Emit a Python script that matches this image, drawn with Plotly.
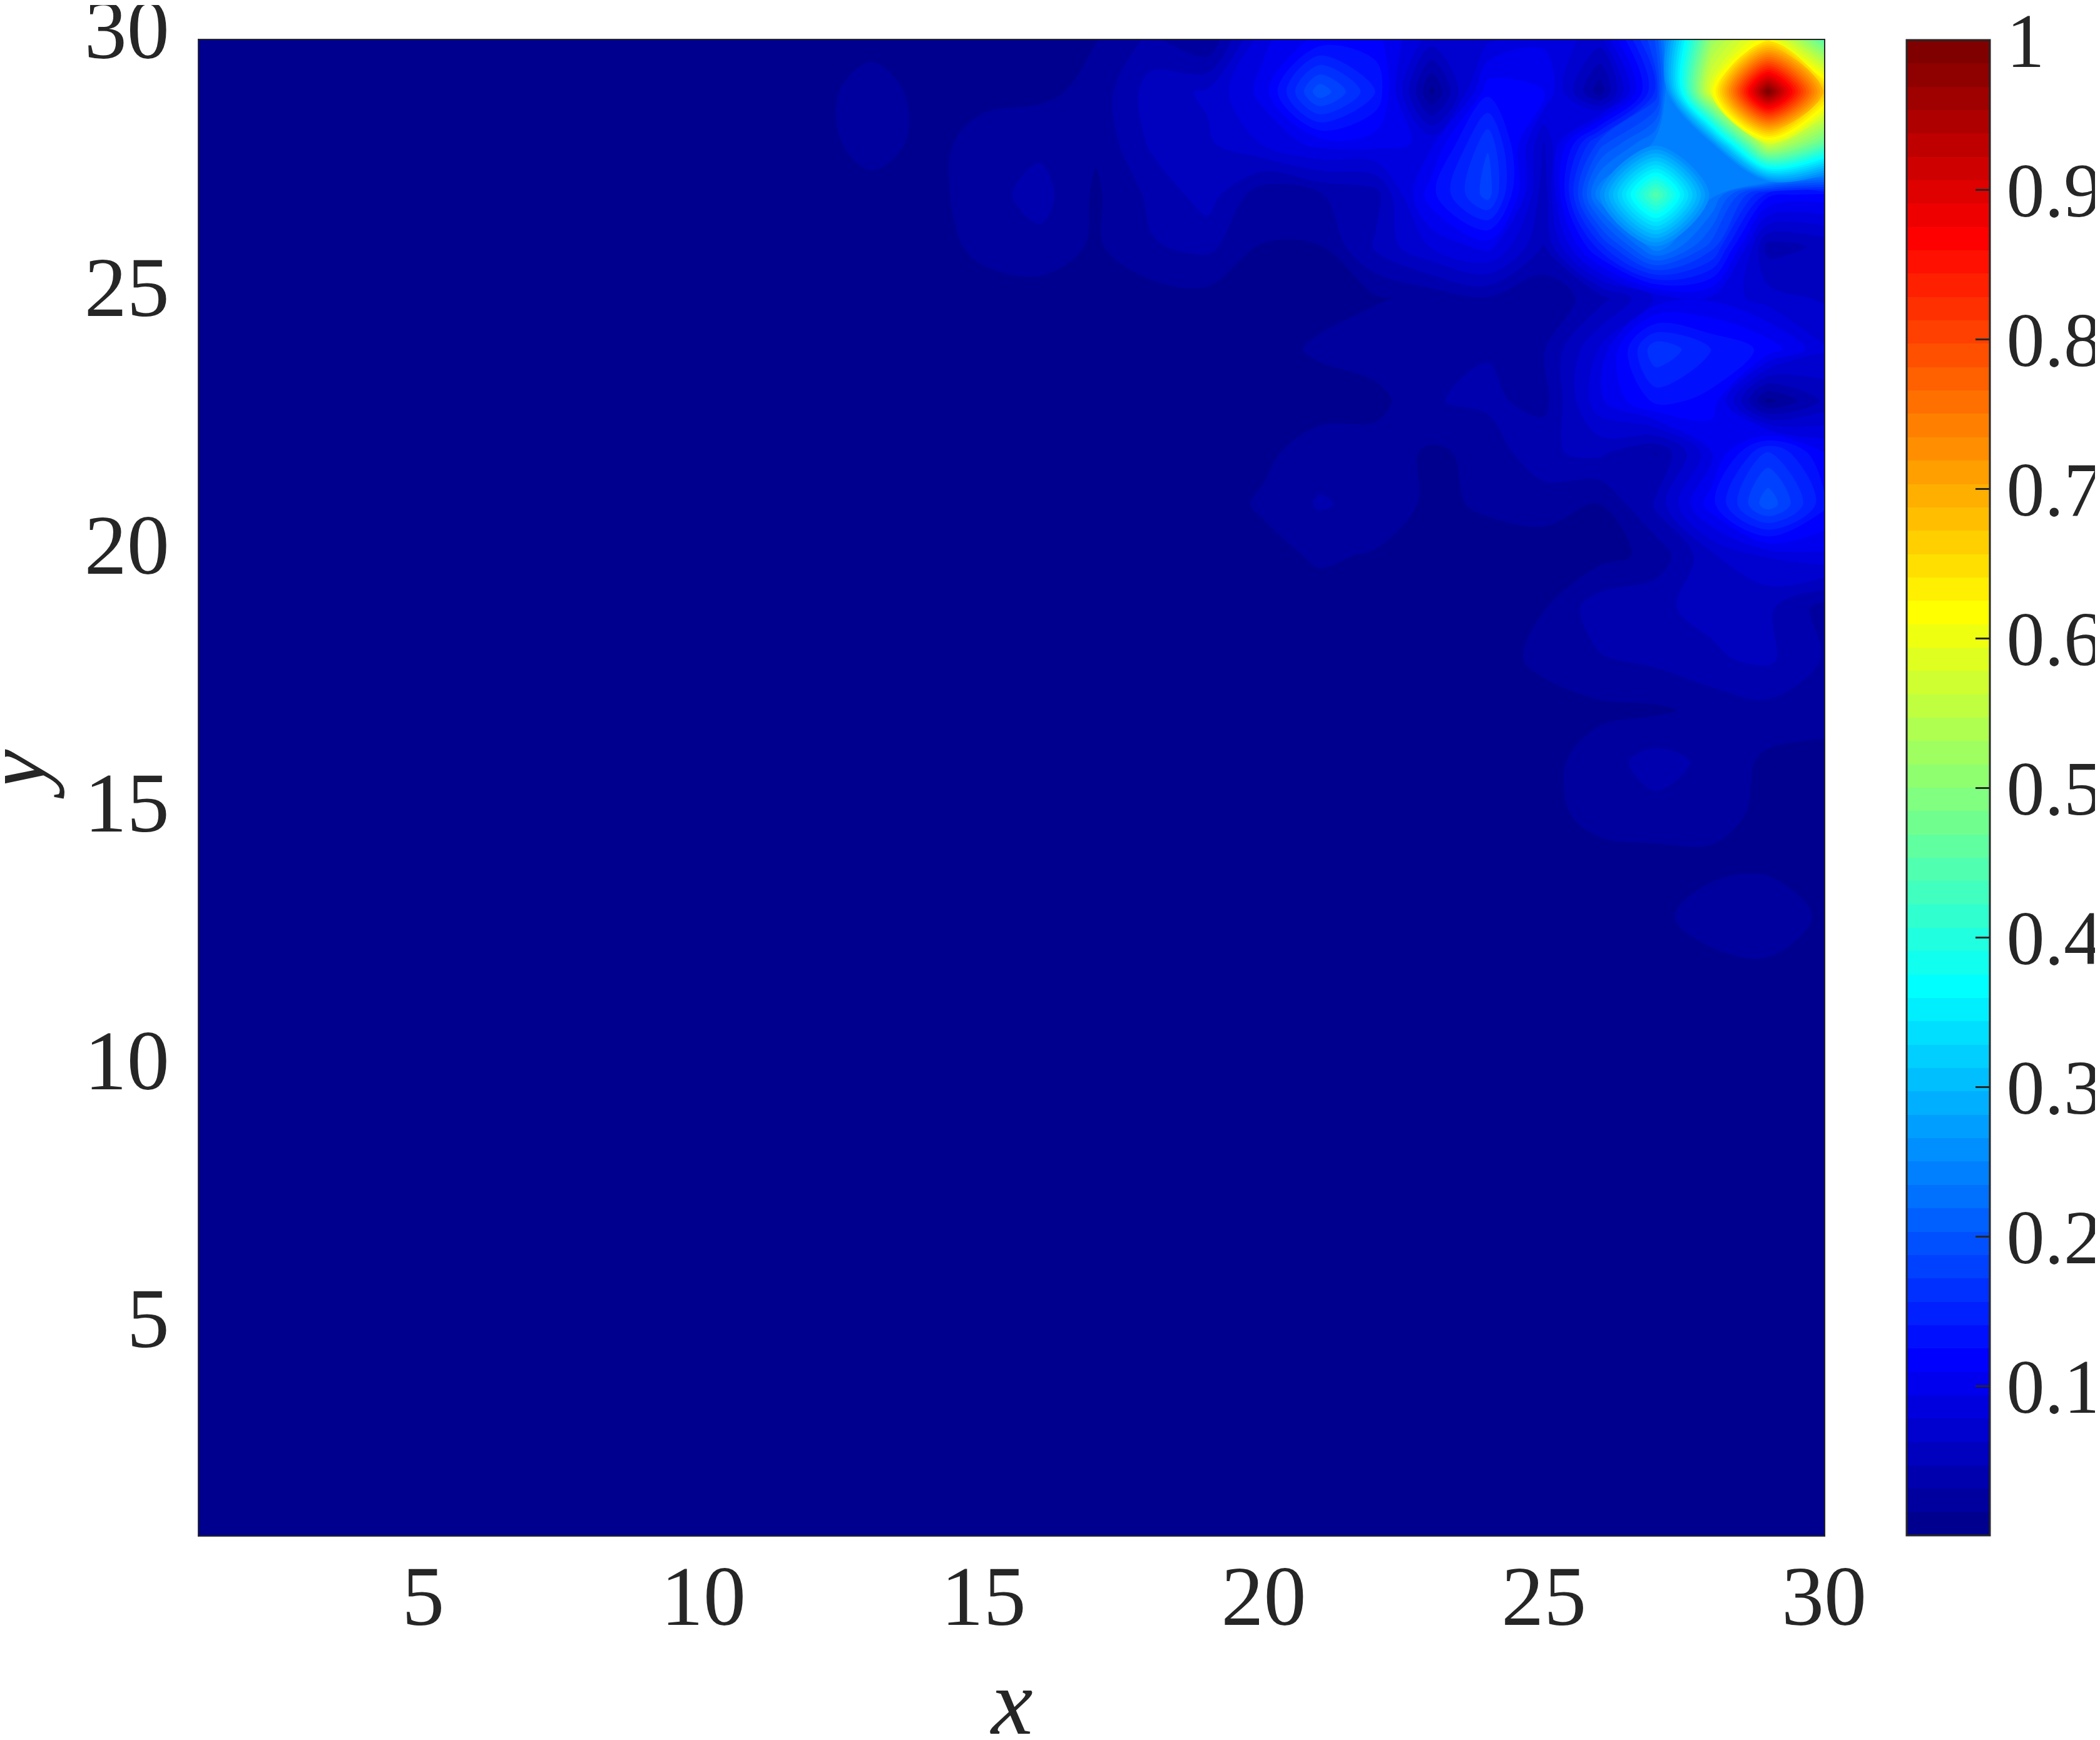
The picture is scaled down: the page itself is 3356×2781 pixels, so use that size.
import plotly.graph_objects as go

# ---------------- data ----------------
x_vals = list(range(1, 31))
y_vals = list(range(1, 31))
B = 0.008  # background level

# rows y = 1 .. 30, columns x = 1 .. 30
row_01 = [B]*30
row_02 = [B]*30
row_03 = [B]*30
row_04 = [B]*30
row_05 = [B]*30
row_06 = [B]*30
row_07 = [B]*30
row_08 = [B]*30
row_09 = [B]*30
row_10 = [B]*30
row_11 = [B]*30
#          1  2  3  4  5  6  7  8  9 10 11 12 13 14 15 16 17 18 19 20 21 22 23 24 25 26 27 28 29 30
row_12 = [B, B, B, B, B, B, B, B, B, B, B, B, B, B, B, B, B, B, B, B, B, B, B, B, B, B, B, B, 0.012, B]
row_13 = [B, B, B, B, B, B, B, B, B, B, B, B, B, B, B, B, B, B, B, B, B, B, B, B, B, B, 0.010, 0.027, 0.029, 0.012]
row_14 = [B, B, B, B, B, B, B, B, B, B, B, B, B, B, B, B, B, B, B, B, B, B, B, B, B, B, B, 0.010, 0.012, B]
row_15 = [B, B, B, B, B, B, B, B, B, B, B, B, B, B, B, B, B, B, B, B, B, B, B, B, 0.010, 0.022, 0.026, 0.024, 0.010, B]
row_16 = [B, B, B, B, B, B, B, B, B, B, B, B, B, B, B, B, B, B, B, B, B, B, B, B, 0.010, 0.024, 0.038, 0.027, 0.012, B]
row_17 = [B, B, B, B, B, B, B, B, B, B, B, B, B, B, B, B, B, B, B, B, B, B, B, B, B, 0.012, 0.013, 0.020, 0.026, 0.025]
row_18 = [B, B, B, B, B, B, B, B, B, B, B, B, B, B, B, B, B, B, B, B, B, B, B, B, 0.020, 0.030, 0.035, 0.045, 0.050, 0.030]
row_19 = [B, B, B, B, B, B, B, B, B, B, B, B, B, B, B, B, B, B, B, B, B, B, B, B, 0.015, 0.040, 0.045, 0.050, 0.050, 0.025]
row_20 = [B, B, B, B, B, B, B, B, B, B, B, B, B, B, B, B, B, B, B, 0.010, 0.018, 0.014, B, B, 0.010, 0.010, 0.020, 0.060, 0.080, 0.090]
row_21 = [B, B, B, B, B, B, B, B, B, B, B, B, B, B, B, B, B, B, B, 0.018, 0.033, 0.026, 0.012, 0.018, 0.020, 0.015, 0.050, 0.120, 0.200, 0.130]
row_22 = [B, B, B, B, B, B, B, B, B, B, B, B, B, B, B, B, B, B, B, 0.012, 0.024, 0.024, 0.013, 0.020, 0.045, 0.050, 0.030, 0.090, 0.160, 0.110]
row_23 = [B, B, B, B, B, B, B, B, B, B, B, B, B, B, B, B, B, B, B, B, B, 0.010, 0.030, 0.035, 0.025, 0.090, 0.130, 0.120, 0.010, 0.050]
row_24 = [B, B, B, B, B, B, B, B, B, B, B, B, B, B, B, B, B, B, B, 0.010, 0.018, 0.025, 0.030, 0.030, 0.030, 0.080, 0.170, 0.140, 0.120, 0.080]
row_25 = [B, B, B, B, B, B, B, B, B, B, B, B, B, B, B, B, B, B, 0.010, 0.008, 0.010, 0.014, 0.020, 0.030, 0.020, 0.040, 0.080, 0.090, 0.070, 0.060]
row_26 = [B, B, B, B, B, B, B, B, B, B, B, B, B, B, 0.020, 0.026, 0.013, 0.030, 0.035, 0.015, 0.015, 0.050, 0.080, 0.100, 0.045, 0.150, 0.250, 0.180, 0.040, 0.050]
row_27 = [B, B, B, B, B, B, B, B, B, B, B, B, B, 0.010, 0.024, 0.038, 0.013, 0.035, 0.055, 0.020, 0.030, 0.040, 0.120, 0.180, 0.050, 0.250, 0.450, 0.240, 0.130, 0.120]
row_28 = [B, B, B, B, B, B, B, B, B, B, B, B, 0.024, 0.010, 0.022, 0.027, 0.018, 0.050, 0.060, 0.080, 0.100, 0.100, 0.090, 0.170, 0.060, 0.180, 0.240, 0.250, 0.580, 0.460]
row_29 = [B, B, B, B, B, B, B, B, B, B, B, B, 0.026, B, 0.011, 0.012, 0.020, 0.055, 0.065, 0.100, 0.200, 0.140, 0.010, 0.120, 0.110, 0.020, 0.160, 0.600, 1.000, 0.680]
row_30 = [B, B, B, B, B, B, B, B, B, B, B, B, B, B, B, B, 0.015, 0.035, 0.015, 0.090, 0.115, 0.115, 0.070, 0.075, 0.090, 0.070, 0.190, 0.520, 0.630, 0.450]

z_rows = [row_01, row_02, row_03, row_04, row_05, row_06, row_07, row_08, row_09, row_10,
          row_11, row_12, row_13, row_14, row_15, row_16, row_17, row_18, row_19, row_20,
          row_21, row_22, row_23, row_24, row_25, row_26, row_27, row_28, row_29, row_30]

x_ticks = [5, 10, 15, 20, 25, 30]
y_ticks = [5, 10, 15, 20, 25, 30]
cb_ticks = [0.1, 0.2, 0.3, 0.4, 0.5, 0.6, 0.7, 0.8, 0.9, 1.0]
cb_ticktext = ["0.1", "0.2", "0.3", "0.4", "0.5", "0.6", "0.7", "0.8", "0.9", "1"]

# ---------------- MATLAB jet(64) ----------------
def matlab_jet(m=64):
    n = -(-m // 4)
    u = [i / n for i in range(1, n + 1)] + [1.0] * (n - 1) + [i / n for i in range(n, 0, -1)]
    g0 = -(-n // 2) - (1 if m % 4 == 1 else 0)
    J = [[0.0, 0.0, 0.0] for _ in range(m)]
    for k, uk in enumerate(u):
        g = g0 + k + 1
        r = g + n
        b = g - n
        if 1 <= r <= m:
            J[r - 1][0] = uk
        if 1 <= g <= m:
            J[g - 1][1] = uk
        if 1 <= b <= m:
            J[b - 1][2] = uk
    return J

NB = 64
jet = matlab_jet(NB)
def rgb(c):
    return "rgb(%d,%d,%d)" % tuple(round(v * 255) for v in c)

# contour fills: band above level k is sampled at (k+1)/NB
contour_scale = [[0.0, rgb(jet[0])]] + [[(k + 1) / NB, rgb(jet[k])] for k in range(NB)]
# stepped scale for the colour bar over [0, 1]
bar_scale = []
for k in range(NB):
    bar_scale.append([k / NB, rgb(jet[k])])
    bar_scale.append([(k + 1) / NB, rgb(jet[k])])

TXT = "#262626"
FONT = "Liberation Serif"
W, H = 3356, 2781
PL, PR, PT, PB = 310, 2907, 56, 2446   # plot area edges in px

fig = go.Figure()
fig.add_trace(go.Contour(
    x=x_vals, y=y_vals, z=z_rows,
    colorscale=contour_scale,
    contours=dict(start=0.0, end=(NB - 1) / NB, size=1.0 / NB,
                  coloring="fill", showlines=False),
    line=dict(width=0),
    hoverinfo="skip",
    showscale=False,
))

# colour bar carrier (its points lie outside the axes range)
fig.add_trace(go.Scatter(
    x=[0, 0], y=[0, 0], mode="markers", hoverinfo="skip", showlegend=False,
    marker=dict(size=1, color=[0.0, 1.0], cmin=0.0, cmax=1.0,
                colorscale=bar_scale, showscale=True,
                colorbar=dict(
                    thicknessmode="pixels", thickness=133,
                    lenmode="fraction", len=1.0,
                    x=(3039 - PL) / (PR - PL), xanchor="left", xpad=0,
                    y=0.5, yanchor="middle", ypad=0,
                    outlinewidth=3, outlinecolor=TXT,
                    tickmode="array", tickvals=cb_ticks, ticktext=cb_ticktext,
                    tickprefix="\u200a",
                    ticks="inside", ticklen=24, tickwidth=3, tickcolor=TXT,
                    ticklabeloverflow="allow",
                    tickfont=dict(family=FONT, size=122, color=TXT),
                )),
))

axis_common = dict(showgrid=False, zeroline=False, ticks="",
                   showline=True, mirror=True, linecolor=TXT, linewidth=2,
                   ticklabeloverflow="allow",
                   tickfont=dict(family=FONT, size=136, color=TXT))

fig.update_xaxes(range=[1, 30], tickmode="array", tickvals=x_ticks,
                 ticklabelstandoff=-22, **axis_common)
fig.update_yaxes(range=[1, 30], tickmode="array", tickvals=y_ticks,
                 ticklabelstandoff=18, ticklabelshift=-19, **axis_common)

fig.add_annotation(text="<i>x</i>", xref="paper", yref="paper",
                   x=0.5, y=-(2712 - PB) / (PB - PT), xanchor="center", yanchor="middle",
                   showarrow=False, font=dict(family=FONT, size=150, color=TXT))
fig.add_annotation(text="<i>y</i>", xref="paper", yref="paper",
                   x=(12 - PL) / (PR - PL), y=(PB - 1229) / (PB - PT), xanchor="center", yanchor="middle",
                   textangle=-90, showarrow=False, font=dict(family=FONT, size=150, color=TXT))

fig.update_layout(
    width=W, height=H, autosize=False,
    margin=dict(l=PL, r=W - PR, t=PT, b=H - PB, pad=0, autoexpand=False),
    paper_bgcolor="white", plot_bgcolor="white",
    showlegend=False,
)

fig.write_html("out.html")
